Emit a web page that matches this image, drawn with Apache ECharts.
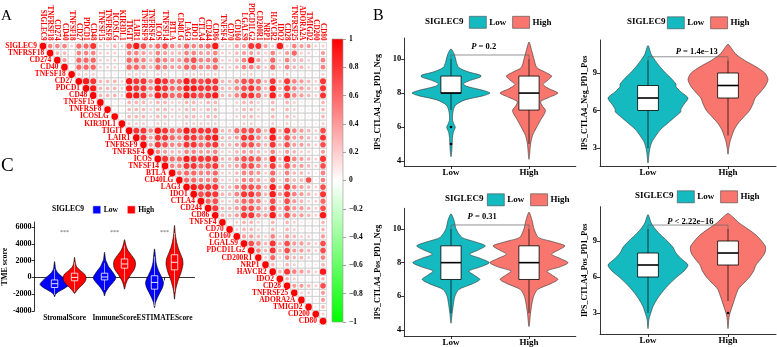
<!DOCTYPE html>
<html><head><meta charset="utf-8">
<script src="https://cdn.jsdelivr.net/npm/echarts@6/dist/echarts.min.js"></script>
<style>html,body{margin:0;padding:0;background:#fff}#c{width:777px;height:347px}</style>
</head><body><div id="c"></div>
<script>
// ---------------- DATA ----------------
const genes = ['SIGLEC9','TNFRSF18','CD274','CD40','TNFSF18','CD27','PDCD1','CD48','TNFSF15','TNFRSF8','ICOSLG','KIR3DL1','TIGIT','LAIR1','TNFRSF9','TNFRSF4','ICOS','TNFSF14','BTLA','CD40LG','LAG3','IDO1','CTLA4','CD244','CD86','TNFSF4','CD70','CD160','LGALS9','PDCD1LG2','CD200R1','NRP1','HAVCR2','IDO2','CD28','TNFRSF25','ADORA2A','TMIGD2','CD200','CD80'];
// upper triangle, row i lists correlation (x0.1) with columns i+1 .. 39
const corrUpper = [
'5552668223279746754655692244884292544228',
'33155522215543543355445223443252462214',
'4166622216653654467556223594262533215',
'166622216653654466556223554262533215',
'22211112221221122222111221121211112',
'9833329885986698788335776383854328',
'933329885986699888335786393854328',
'33329984986698789335886393854328',
'1113332332233233112332131321113',
'113332332233233112332131321113',
'13332332233233112332131321113',
'2221221122222111221121211112',
'885986698888336776393854327',
'84886588689334885393744328',
'4875588678334775383744327',
'543355445223443252432214',
'86698888335776393954328',
'5588678334775383744327',
'566556223554262533215',
'66556223554262533715',
'9888335776393854327',
'788335886394854328',
'67224665272743226',
'8334775383744327',
'334885493744329',
'12332131321113',
'2332131321113',
'443252432214',
'75383744327',
'5383744327',
'262533215',
'31321113',
'3854329',
'321113',
'44327',
'2214',
'114',
'13',
'2',
''];
const colorbarRange = [-1, 1];

const tmeCats = ['StromalScore','ImmuneScore','ESTIMATEScore'];
const tmeSig = ['***','***','***'];
// violin profiles: [score, half-width]
const tmeLowViolin = [
 [[-2300,0],[-2000,0.02],[-1700,0.08],[-1400,0.17],[-1100,0.25],[-850,0.29],[-600,0.27],[-300,0.22],[0,0.17],[300,0.11],[600,0.06],[1000,0.02],[1500,0.01],[1900,0]],
 [[-2200,0],[-1800,0.02],[-1400,0.06],[-1000,0.11],[-600,0.17],[-200,0.22],[100,0.22],[500,0.18],[900,0.13],[1300,0.08],[1700,0.05],[2100,0.02],[2600,0.01],[3000,0]],
 [[-3600,0],[-3000,0.02],[-2400,0.06],[-1800,0.11],[-1200,0.16],[-700,0.18],[-200,0.16],[300,0.12],[800,0.08],[1300,0.05],[1800,0.03],[2400,0.02],[3000,0.01],[3400,0]]
];
const tmeHighViolin = [
 [[-1900,0],[-1600,0.04],[-1200,0.1],[-800,0.17],[-400,0.22],[0,0.23],[400,0.2],[800,0.12],[1200,0.05],[1600,0.02],[2000,0.01],[2400,0]],
 [[-1400,0],[-900,0.02],[-400,0.05],[0,0.09],[400,0.13],[800,0.18],[1200,0.21],[1600,0.22],[2000,0.21],[2400,0.17],[2800,0.12],[3200,0.07],[3600,0.04],[4000,0.02],[4500,0]],
 [[-2600,0],[-2000,0.01],[-1400,0.025],[-800,0.05],[-200,0.08],[400,0.12],[1000,0.15],[1600,0.17],[2200,0.16],[2800,0.12],[3400,0.08],[4000,0.05],[4600,0.03],[5200,0.015],[6200,0]]
];
// [whisker low, q1, median, q3, whisker high]
const tmeLowBox = [[-2100,-1200,-750,-300,1000],[-1500,-300,50,500,1700],[-3400,-1400,-600,200,2500]];
const tmeHighBox = [[-1700,-400,0,500,1800],[-500,1100,1600,2200,3800],[-1700,900,1800,2700,5300]];

const ipsGroups = ['Low','High'];
const ipsPanels = ['IPS_CTLA4_Neg_PD1_Neg','IPS_CTLA4_Neg_PD1_Pos','IPS_CTLA4_Pos_PD1_Neg','IPS_CTLA4_Pos_PD1_Pos'];
const ipsPOp = ['=','=','=','<'];
const ipsPVal = ['0.2','1.4e\u221213','0.31','2.22e\u221216'];
const ipsLowViolin = [
 [[4.25,0],[4.6,0.01],[5.0,0.015],[5.4,0.02],[5.7,0.03],[5.9,0.05],[6.0,0.055],[6.15,0.04],[6.4,0.02],[6.7,0.02],[7.0,0.03],[7.3,0.06],[7.6,0.18],[7.85,0.42],[8.0,0.5],[8.15,0.42],[8.4,0.2],[8.55,0.16],[8.75,0.25],[8.95,0.38],[9.05,0.38],[9.25,0.22],[9.5,0.1],[9.8,0.07],[10.0,0.06],[10.3,0.04],[10.6,0]],
 [[1.8,0],[2.5,0.012],[3.0,0.025],[3.5,0.05],[4.0,0.1],[4.5,0.16],[5.0,0.25],[5.5,0.34],[5.9,0.41],[6.1,0.41],[6.5,0.45],[7.0,0.5],[7.5,0.41],[7.9,0.35],[8.1,0.35],[8.5,0.3],[9.0,0.22],[9.5,0.15],[10.0,0.09],[10.5,0.04],[11.2,0]],
 [[4.4,0],[5.0,0.015],[5.5,0.03],[6.0,0.05],[6.4,0.1],[6.75,0.28],[7.0,0.37],[7.25,0.3],[7.5,0.23],[7.75,0.38],[8.0,0.49],[8.25,0.38],[8.5,0.24],[8.75,0.35],[9.0,0.44],[9.25,0.3],[9.5,0.14],[10.0,0.065],[10.5,0.04],[10.9,0]],
 [[1.7,0],[2.5,0.012],[3.0,0.035],[3.5,0.06],[4.0,0.1],[4.5,0.15],[5.0,0.21],[5.5,0.28],[6.0,0.36],[6.5,0.45],[7.0,0.5],[7.5,0.42],[8.0,0.35],[8.5,0.31],[9.0,0.24],[9.5,0.16],[10.0,0.09],[10.5,0.04],[11.2,0]]
];
const ipsHighViolin = [
 [[4.1,0],[4.5,0.01],[5.0,0.02],[5.5,0.045],[6.0,0.1],[6.5,0.16],[6.8,0.2],[7.0,0.21],[7.25,0.17],[7.5,0.15],[7.75,0.26],[8.0,0.37],[8.25,0.26],[8.5,0.18],[8.75,0.24],[9.0,0.29],[9.25,0.2],[9.5,0.1],[10.0,0.064],[10.5,0.035],[11.0,0]],
 [[2.5,0],[3.0,0.01],[3.5,0.025],[4.0,0.05],[4.5,0.08],[5.0,0.13],[5.5,0.2],[6.0,0.27],[6.5,0.31],[7.0,0.34],[7.5,0.41],[8.0,0.47],[8.5,0.5],[9.0,0.46],[9.5,0.35],[10.0,0.21],[10.5,0.1],[11.0,0.04],[11.3,0]],
 [[4.2,0],[5.0,0.02],[5.5,0.035],[6.0,0.06],[6.4,0.11],[6.75,0.28],[7.0,0.37],[7.25,0.3],[7.5,0.23],[7.75,0.4],[8.0,0.5],[8.25,0.4],[8.5,0.29],[8.75,0.38],[9.0,0.46],[9.25,0.3],[9.5,0.12],[10.0,0.065],[10.5,0.04],[11.0,0]],
 [[1.7,0],[2.5,0.01],[3.0,0.025],[3.5,0.05],[4.0,0.075],[4.5,0.1],[5.0,0.13],[5.5,0.2],[6.0,0.27],[6.5,0.32],[7.0,0.35],[7.5,0.41],[8.0,0.46],[8.5,0.47],[9.0,0.42],[9.5,0.35],[10.0,0.25],[10.5,0.14],[11.0,0.06],[11.3,0]]
];
const ipsLowBox = [[7,8,8,9,10],[3,6,7,8,10],[5,7,8,9,10],[3,6,7,8,10]];
const ipsHighBox = [[5,7,8,9,10],[4,7,8,9,10],[5,7,8,9,10],[4,7,8,9,10]];
const ipsLowOut = [[6,5],[],[],[]];
const ipsHighOut = [[],[],[],[3]];
const ipsYTicks = [[4,6,8,10],[3,6,9],[4,6,8,10],[3,6,9]];
const tmeYTicks = [-4000,-2000,0,2000,4000,6000];

// ---------------- LAYOUT / STYLE ----------------
const FF = "'Liberation Serif','Times New Roman',serif";
const TEAL = '#14BAC0', SALMON = '#F8766D';
const ipsRange = [[3.71,11.24],[1.56,11.64],[3.64,11.23],[1.25,11.86]];
const ipsGrid = [
 {left:404.2, top:38, width:171.6, height:128},
 {left:600, top:40, width:176, height:126},
 {left:404.2, top:208.3, width:171.6, height:127.7},
 {left:600, top:206.7, width:176, height:127.3}
];
const ipsNameGap = [22, 9, 22, 9];
const ipsBracket = [[10.24,10.0,1.42,10.72],[10.3,9.9,1.61,10.72],[10.24,10.0,1.40,10.73],[10.33,9.9,1.53,10.62]];
const ipsLegendPos = [[425,469,16],[627,667,16.5],[445,487,193.5],[635,677,190.5]];

function corrColor(r){
  if (r >= 0){ const c = Math.round(255*(1-r)); return `rgb(255,${c},${c})`; }
  const c = Math.round(255*(1+r)); return `rgb(${c},255,${c})`;
}

const corrCells = [];
genes.forEach((g,i)=>{
  corrCells.push([i,i,1]);
  for (let j=i+1;j<genes.length;j++) corrCells.push([j,i,(+corrUpper[i][j-i-1])/10]);
});

function violinSeries(name, gi, color, dx, profiles, boxes, outs, st){
  return {
    type:'custom', name, xAxisIndex:gi, yAxisIndex:gi, itemStyle:{color},
    clip:false,
    data: profiles.map((p,i)=>[i+1, boxes[i][2]]),
    renderItem(params, api){
      const i = params.dataIndex, xc = api.value(0)+dx;
      const prof = profiles[i], b = boxes[i];
      const right = prof.map(([v,w])=>api.coord([xc+w, v]));
      const left = prof.slice(1,-1).reverse().map(([v,w])=>api.coord([xc-w, v]));
      const ch = [{type:'polygon', shape:{points:right.concat(left), smooth:0.25},
        style:{fill:color, stroke:st.outline, lineWidth:0.6}}];
      const pw = (y1,y2)=>({type:'line', shape:{x1:api.coord([xc,y1])[0], y1:api.coord([xc,y1])[1], x2:api.coord([xc,y2])[0], y2:api.coord([xc,y2])[1]}, style:{stroke:st.box, lineWidth:st.wl}});
      ch.push(pw(b[0], b[1]));
      ch.push(pw(b[3], b[4]));
      const a = api.coord([xc-st.bw, b[3]]), c = api.coord([xc+st.bw, b[1]]);
      ch.push({type:'rect', shape:{x:a[0], y:a[1], width:c[0]-a[0], height:c[1]-a[1]}, style:{fill:st.boxFill, stroke:st.box, lineWidth:st.bl}});
      const m1 = api.coord([xc-st.bw, b[2]]), m2 = api.coord([xc+st.bw, b[2]]);
      ch.push({type:'line', shape:{x1:m1[0], y1:m1[1], x2:m2[0], y2:m2[1]}, style:{stroke:st.box, lineWidth:st.ml}});
      (outs[i]||[]).forEach(o=>{ const p = api.coord([xc, o]); ch.push({type:'circle', shape:{cx:p[0], cy:p[1], r:1.3}, style:{fill:'#000'}}); });
      return {type:'group', children:ch};
    }
  };
}

const title = [
  {text:'A', left:1, top:9, padding:0, textStyle:{fontFamily:FF, fontSize:15, fontWeight:'normal', color:'#000'}},
  {text:'B', left:373, top:8, padding:0, textStyle:{fontFamily:FF, fontSize:16, fontWeight:'normal', color:'#000'}},
  {text:'C', left:1, top:157, padding:0, textStyle:{fontFamily:FF, fontSize:19, fontWeight:'normal', color:'#000'}},
  {text:'SIGLEC9', left:52, top:205.5, padding:0, textStyle:{fontFamily:FF, fontSize:7.5, fontWeight:'bold', color:'#000'}}
];
ipsLegendPos.forEach(p=>title.push({text:'SIGLEC9', left:p[0], top:p[2]+1, padding:0, textStyle:{fontFamily:FF, fontSize:9, fontWeight:'bold', color:'#000'}}));

const legend = [
  {left:92.5, top:205.5, padding:0, itemWidth:8, itemHeight:8, itemGap:9, itemStyle:{borderColor:'#fff', borderWidth:0.6},
   data:[{name:'C_Low', icon:'rect'},{name:'C_High', icon:'rect'}], formatter:n=>n.slice(2),
   textStyle:{fontFamily:FF, fontSize:7.5, fontWeight:'bold', color:'#000', padding:[0,0,0,-2]}, selectedMode:false}
];
ipsLegendPos.forEach(p=>legend.push({left:p[1], top:p[2], padding:0, itemWidth:17, itemHeight:12, itemGap:6, selectedMode:false,
   itemStyle:{borderColor:'#444', borderWidth:0.6},
   data:[{name:'Low', icon:'rect'},{name:'High', icon:'rect'}],
   textStyle:{fontFamily:FF, fontSize:9, fontWeight:'bold', color:'#000', padding:[0,0,0,-2]}}));

const axisLineStyle = {show:true, lineStyle:{color:'#000', width:0.8}};
const grid = [
  {left:39.4, top:37.4, width:287.2, height:287.2},
  {left:332, top:39, width:11, height:283},
  {left:28, top:222, width:166.5, height:89}
].concat(ipsGrid);

const xAxis = [
  {gridIndex:0, type:'category', data:genes, position:'top', axisLine:{show:false}, axisTick:{show:false},
   axisLabel:{rotate:90, interval:0, color:'#FF0000', fontSize:7.2, fontWeight:'bold', fontFamily:FF, margin:2}},
  {gridIndex:1, type:'category', data:[''], show:false},
  {gridIndex:2, type:'value', min:0.4, max:3.6, splitLine:{show:false}, axisLine:axisLineStyle,
   axisTick:{customValues:[1,2,3], length:3, lineStyle:{color:'#000', width:0.8}},
   axisLabel:{customValues:[1,2,3], hideOverlap:false, formatter:v=>tmeCats[Math.round(v)-1], fontFamily:FF, fontSize:7.4, fontWeight:'bold', color:'#000', margin:4}}
];
const yAxis = [
  {gridIndex:0, type:'category', data:genes, inverse:true, show:false},
  {gridIndex:1, type:'value', min:colorbarRange[0], max:colorbarRange[1], interval:0.2, position:'right', splitLine:{show:false},
   axisLine:{show:false}, axisTick:{show:true, length:3, lineStyle:{color:'#666', width:0.6}},
   axisLabel:{fontFamily:FF, fontSize:7.5, fontWeight:'bold', color:'#000', margin:6,
     formatter:v=>{ const r = Math.round(v*10)/10; return r<0 ? '\u2212'+Math.abs(r) : String(r); }}},
  {gridIndex:2, type:'value', min:-4000, max:6600, splitLine:{show:false}, axisLine:axisLineStyle,
   axisTick:{customValues:tmeYTicks, length:3, lineStyle:{color:'#000', width:0.8}},
   axisLabel:{customValues:tmeYTicks, formatter:v=>String(v), fontFamily:FF, fontSize:8, fontWeight:'bold', color:'#000', margin:3},
   name:'TME score', nameLocation:'middle', nameGap:21, nameTextStyle:{fontFamily:FF, fontSize:8, fontWeight:'bold', color:'#000'}}
];
ipsGrid.forEach((g,k)=>{
  xAxis.push({gridIndex:3+k, type:'value', min:0.4, max:2.6, splitLine:{show:false}, axisLine:axisLineStyle,
    axisTick:{customValues:[1,2], length:3, lineStyle:{color:'#000', width:0.8}},
    axisLabel:{customValues:[1,2], formatter:v=>ipsGroups[Math.round(v)-1], fontFamily:FF, fontSize:9, fontWeight:'bold', color:'#000', margin:2}});
  yAxis.push({gridIndex:3+k, type:'value', min:ipsRange[k][0], max:ipsRange[k][1], splitLine:{show:false}, axisLine:axisLineStyle,
    axisTick:{customValues:ipsYTicks[k], length:3, lineStyle:{color:'#000', width:0.8}},
    axisLabel:{customValues:ipsYTicks[k], fontFamily:FF, fontSize:8.5, fontWeight:'bold', color:'#000', margin:3},
    name:ipsPanels[k], nameLocation:'middle', nameGap:ipsNameGap[k], nameTextStyle:{fontFamily:FF, fontSize:8, fontWeight:'bold', color:'#000'}});
});

const series = [
  {type:'custom', xAxisIndex:0, yAxisIndex:0, data:corrCells, renderItem(params, api){
    const x = api.value(0), y = api.value(1), r = api.value(2);
    const c = api.coord([x,y]), s = api.size([1,1]);
    return {type:'group', children:[
      {type:'rect', shape:{x:c[0]-s[0]/2, y:c[1]-s[1]/2, width:s[0], height:s[1]}, style:{fill:'none', stroke:'#cfcfcf', lineWidth:0.7}},
      {type:'circle', shape:{cx:c[0], cy:c[1], r:Math.sqrt(Math.abs(r))*s[0]*0.47}, style:{fill:corrColor(r)}}
    ]};
  }},
  {type:'custom', xAxisIndex:0, yAxisIndex:0, data:genes.map((g,i)=>[i,i]), renderItem(params, api){
    const c = api.coord([api.value(0), api.value(1)]), s = api.size([1,1]);
    return {type:'text', x:c[0]-s[0]/2-2.5, y:c[1], style:{text:genes[params.dataIndex], fill:'#FF0000', fontSize:7.4, fontWeight:'bold', fontFamily:FF, align:'right', verticalAlign:'middle'}};
  }},
  {type:'custom', xAxisIndex:1, yAxisIndex:1, data:[[0, 0]], renderItem(params, api){
    const t = api.coord([0, colorbarRange[1]]), b = api.coord([0, colorbarRange[0]]), w = api.size([1,0])[0];
    return {type:'rect', shape:{x:t[0]-w/2, y:t[1], width:w, height:b[1]-t[1]},
      style:{fill:{type:'linear', x:0, y:0, x2:0, y2:1, colorStops:[{offset:0,color:'#FF0000'},{offset:0.5,color:'#FFFFFF'},{offset:1,color:'#00FF00'}]}, stroke:'#999', lineWidth:0.6}};
  }},
  violinSeries('C_Low', 2, '#0000FF', -0.2, tmeLowViolin, tmeLowBox, [], {outline:'#000', box:'#fff', boxFill:'rgba(0,0,0,0)', bw:0.065, wl:0.6, bl:0.8, ml:0.9}),
  violinSeries('C_High', 2, '#FF0000', 0.2, tmeHighViolin, tmeHighBox, [], {outline:'#000', box:'#fff', boxFill:'rgba(0,0,0,0)', bw:0.065, wl:0.6, bl:0.8, ml:0.9}),
  {type:'custom', xAxisIndex:2, yAxisIndex:2, data:tmeSig.map((s,i)=>[i+1, 5300]), renderItem(params, api){
    const c = api.coord([api.value(0), api.value(1)]);
    return {type:'text', x:c[0], y:c[1], style:{text:tmeSig[params.dataIndex], fill:'#555', fontSize:6, fontFamily:FF, align:'center', verticalAlign:'middle'}};
  }}
];
ipsPanels.forEach((p,k)=>{
  const st = {outline:'#333', box:'#000', boxFill:'#fff', bw:0.13, wl:0.7, bl:0.8, ml:1.6};
  series.push(violinSeries('Low', 3+k, TEAL, 0, [ipsLowViolin[k]], [ipsLowBox[k]], [ipsLowOut[k]], st));
  series[series.length-1].data = [[1, ipsLowBox[k][2]]];
  series.push(violinSeries('High', 3+k, SALMON, 0, [ipsHighViolin[k]], [ipsHighBox[k]], [ipsHighOut[k]], st));
  series[series.length-1].data = [[2, ipsHighBox[k][2]]];
  const br = ipsBracket[k];
  series.push({type:'custom', xAxisIndex:3+k, yAxisIndex:3+k, data:[[1,2]], renderItem(params, api){
    const pts = [api.coord([1,br[1]]), api.coord([1,br[0]]), api.coord([2,br[0]]), api.coord([2,br[1]])];
    const t = api.coord([br[2], br[3]]);
    return {type:'group', children:[
      {type:'polyline', shape:{points:pts}, style:{stroke:'#666', lineWidth:0.7, fill:'none'}},
      {type:'text', x:t[0], y:t[1], style:{text:'{i|P} '+ipsPOp[k]+' '+ipsPVal[k], fill:'#000', fontSize:8.5, fontWeight:'bold', fontFamily:FF, align:'center', verticalAlign:'middle',
        rich:{i:{fontStyle:'italic', fontWeight:'bold', fontSize:8.5, fontFamily:FF}}}}
    ]};
  }});
});

const chart = echarts.init(document.getElementById('c'), null, {renderer:'canvas'});
chart.setOption({animation:false, backgroundColor:'#fff', title, legend, grid, xAxis, yAxis, series});
</script>
</body></html>
